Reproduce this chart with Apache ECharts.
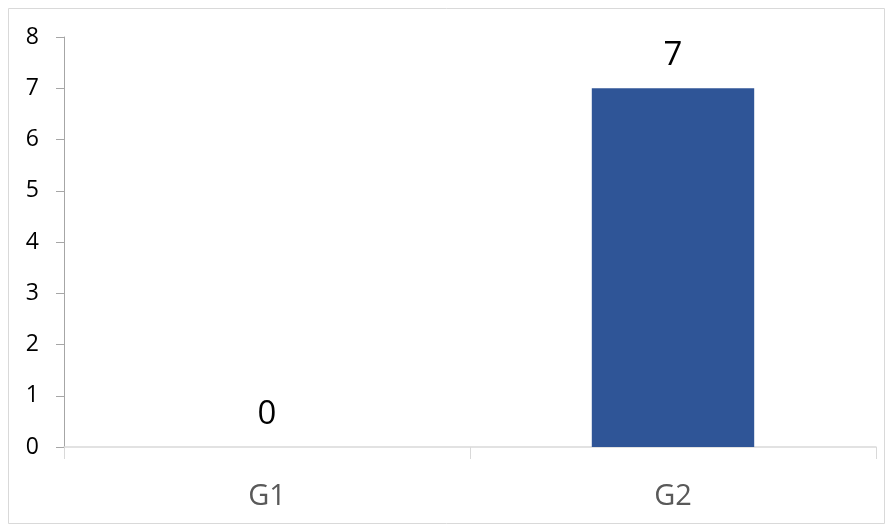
<!DOCTYPE html>
<html><head><meta charset="utf-8">
<script src="https://cdn.jsdelivr.net/npm/echarts@6/dist/echarts.min.js"></script>
<style>html,body{margin:0;padding:0;background:#fff}#c{width:893px;height:532px}</style>
</head><body><div id="c"></div>
<script>
const categories = ['G1', 'G2'];
const values = [0, 7];
const yTicks = [0, 1, 2, 3, 4, 5, 6, 7, 8];

const chart = echarts.init(document.getElementById('c'), null, {renderer: 'canvas'});
chart.setOption({
  animation: false,
  backgroundColor: '#fff',
  graphic: [{
    type: 'rect', shape: {x: 8.5, y: 8.5, width: 876, height: 515},
    style: {fill: 'none', stroke: '#d9d9d9', lineWidth: 1}, silent: true
  }],
  grid: {left: 64, right: 17, top: 37, bottom: 85, containLabel: false},
  xAxis: {
    type: 'category', data: categories,
    axisLine: {show: true, lineStyle: {color: '#d9d9d9', width: 1.5}},
    axisTick: {show: true, length: 12, lineStyle: {color: '#d9d9d9'}, alignWithLabel: false},
    axisLabel: {color: '#595959', fontSize: 29, fontFamily: 'Open Sans', margin: 35},
    splitLine: {show: false}
  },
  yAxis: {
    type: 'value', min: yTicks[0], max: yTicks[yTicks.length - 1], interval: 1,
    axisLine: {show: true, lineStyle: {color: '#a6a6a6', width: 1}},
    axisTick: {show: true, length: 8, lineStyle: {color: '#a6a6a6'}},
    axisLabel: {color: '#000', fontSize: 23, fontFamily: 'Open Sans', margin: 25},
    splitLine: {show: false}
  },
  series: [{
    type: 'bar', data: values, barWidth: '40%',
    itemStyle: {color: '#2f5597'},
    label: {show: true, position: 'top', distance: 16, color: '#000', fontSize: 33, fontFamily: 'Open Sans'}
  }]
});
</script></body></html>
